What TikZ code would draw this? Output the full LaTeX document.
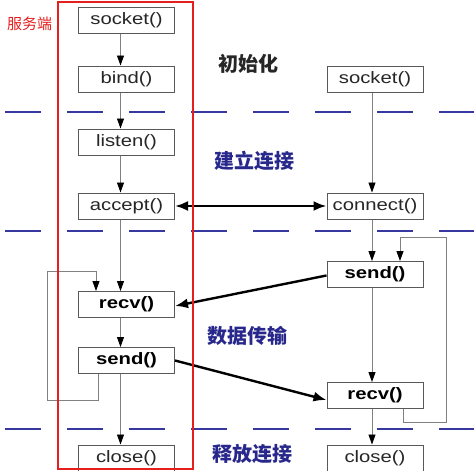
\documentclass[tikz,border=0pt]{standalone}
\usepackage{fontspec}
\usetikzlibrary{arrows.meta,calc}
\newfontfamily\boxfont{Liberation Sans}
\newfontfamily\cjkfont{Noto Sans CJK SC}
\definecolor{navy}{RGB}{55,55,160}
\definecolor{lblblue}{RGB}{40,40,140}
\definecolor{redline}{RGB}{230,30,30}
\newcommand{\wtxt}[1]{\scalebox{1.23}[1]{#1}}
\begin{document}
\begin{tikzpicture}[x=1pt,y=-1pt,
  fbox/.style={draw=black!65,line width=1pt,fill=white,minimum width=96pt,minimum height=26pt,inner sep=0pt,
     font=\boxfont\fontsize{16.5}{16.5}\selectfont,text=black!85},
  bbox/.style={fbox,font=\boxfont\bfseries\fontsize{16.5}{16.5}\selectfont,text=black},
  flow/.style={draw=black!50,line width=0.9pt,-{Triangle[length=10pt,width=7pt,fill=black,color=black]}},
  thick/.style={draw=black,line width=2.4pt,-{Latex[length=13pt,width=10pt]}},
  sep/.style={draw=navy,line width=1.8pt,dash pattern=on 36pt off 26pt},
  phase/.style={font=\cjkfont\bfseries\fontsize{20}{20}\selectfont,text=lblblue,inner sep=0pt}
]
\useasboundingbox (0,0) rectangle (474,471);
\fill[white] (0,0) rectangle (474,471);

% separators
\draw[sep] (5,112) -- (474,112);
\draw[sep] (5,231) -- (474,231);
\draw[sep] (5,429) -- (474,429);

% left boxes
\node[fbox] (ls) at (126.5,20.5) {\wtxt{socket()}};
\node[fbox] (lb) at (126.5,79) {\wtxt{bind()}};
\node[fbox] (ll) at (126.5,142) {\wtxt{listen()}};
\node[fbox] (la) at (126.5,206) {\wtxt{accept()}};
\node[bbox] (lr) at (126.5,304.5) {\wtxt{recv()}};
\node[bbox] (lsd) at (126.5,360.5) {\wtxt{send()}};
\node[fbox] (lc) at (126.5,458) {\wtxt{close()}};

% right boxes
\node[fbox] (rs) at (375,79.5) {\wtxt{socket()}};
\node[fbox] (rc) at (375,206) {\wtxt{connect()}};
\node[bbox] (rsd) at (375,274.5) {\wtxt{send()}};
\node[bbox] (rr) at (375,395.5) {\wtxt{recv()}};
\node[fbox] (rcl) at (375,458) {\wtxt{close()}};

% left flow
\draw[flow] ([xshift=-6pt]ls.south) -- ([xshift=-6pt]lb.north);
\draw[flow] ([xshift=-6pt]lb.south) -- ([xshift=-6pt]ll.north);
\draw[flow] ([xshift=-6pt]ll.south) -- ([xshift=-6pt]la.north);
\draw[flow] ([xshift=-6pt]la.south) -- ([xshift=-6pt]lr.north);
\draw[flow] ([xshift=-6pt]lr.south) -- ([xshift=-6pt]lsd.north);
\draw[flow] ([xshift=-6pt]lsd.south) -- ([xshift=-6pt]lc.north);

% right flow
\draw[flow] ([xshift=-3pt]rs.south) -- ([xshift=-3pt]rc.north);
\draw[flow] ([xshift=-3pt]rc.south) -- ([xshift=-3pt]rsd.north);
\draw[flow] ([xshift=-3pt]rsd.south) -- ([xshift=-3pt]rr.north);
\draw[flow] ([xshift=-3pt]rr.south) -- ([xshift=-3pt]rcl.north);

% loops
\coordinate (la2) at (47,400);
\coordinate (la3) at (47,271);
\coordinate (la4) at (96,271);
\draw[flow] ([xshift=-28.5pt]lsd.south) |- (la2) -- (la3) -- (la4) -- ([xshift=-30.5pt]lr.north);
\coordinate (ra2) at (446,422);
\coordinate (ra3) at (446,237);
\coordinate (ra4) at (400,237);
\draw[flow] ([xshift=28pt]rr.south) |- (ra2) -- (ra3) -- (ra4) -- ([xshift=25pt]rsd.north);

% thick arrows
\draw[thick,{Latex[length=13pt,width=10pt]}-{Latex[length=13pt,width=10pt]}] (la.east) -- (rc.west);
\draw[thick] ([yshift=-1pt]rsd.west) -- ([yshift=-1.5pt]lr.east);
\draw[thick] (lsd.east) -- ([yshift=-4.5pt]rr.west);

% red frame
\draw[redline,line width=2pt] (57.5,1.5) rectangle (193,469);
\node[font=\cjkfont\fontsize{15}{15}\selectfont,text=redline,inner sep=0pt] (srv) at (29.5,23.5) {服务端};

% phase labels
\node[phase,text=black!85] (p1) at (248.5,64) {初始化};
\node[phase] (p2) at (254.5,161) {建立连接};
\node[phase] (p3) at (247.5,336) {数据传输};
\node[phase] (p4) at (252.5,454) {释放连接};
\end{tikzpicture}
\end{document}
